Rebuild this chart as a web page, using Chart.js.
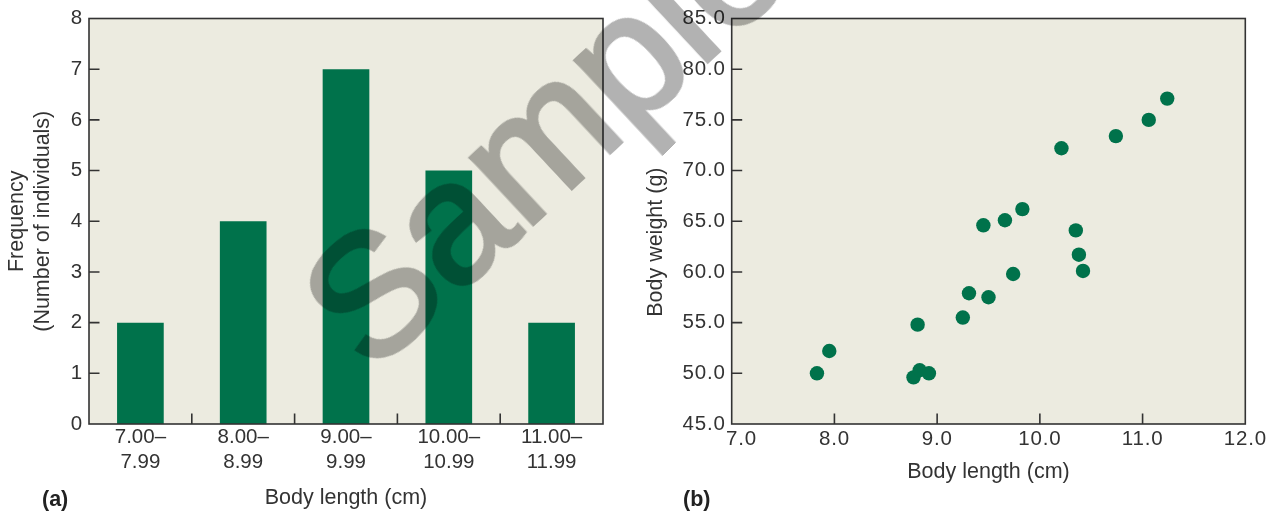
<!DOCTYPE html>
<html>
<head>
<meta charset="utf-8">
<script src="https://cdn.jsdelivr.net/npm/chart.js@4.4.1/dist/chart.umd.min.js"></script>
<style>
  html, body { margin: 0; padding: 0; background: #ffffff; }
  #wrap { position: relative; width: 1277px; height: 511px; overflow: hidden; }
  canvas { position: absolute; top: 0; }
  #histCanvas { left: 0; }
  #scatterCanvas { left: 640px; }
  .panel-tag { position: absolute; font: bold 21.5px "Liberation Sans", Arial, Helvetica, sans-serif; color: #222; line-height: 1; }
  #stamp {
    position: absolute; left: 543px; top: 133px;
    font: 172px "Liberation Sans", Arial, Helvetica, sans-serif;
    line-height: 1; white-space: nowrap; color: #000;
    -webkit-text-stroke: 4px #000;
    opacity: 0.3;
    transform: translate(-50%, -50%) rotate(-43deg);
    pointer-events: none;
  }
</style>
</head>
<body>
<div id="wrap">
  <canvas id="histCanvas" width="640" height="511"></canvas>
  <canvas id="scatterCanvas" width="637" height="511"></canvas>
  <div class="panel-tag" style="left:42px; top:489px;">(a)</div>
  <div class="panel-tag" style="left:683px; top:489px;">(b)</div>
  <div id="stamp">Sample</div>
</div>
<script>
// ---- data -----------------------------------------------------------
const binLabels = [
  ['7.00–', '7.99'],
  ['8.00–', '8.99'],
  ['9.00–', '9.99'],
  ['10.00–', '10.99'],
  ['11.00–', '11.99']
];
const frequency = [2, 4, 7, 5, 2];

const bodyLength = [7.83, 7.95, 8.81, 8.77, 8.83, 8.92, 9.25, 9.31, 9.50, 9.74,
                    9.45, 9.66, 9.83, 10.35, 10.38, 10.42, 10.21, 10.74, 11.06, 11.24];
const bodyWeight = [50.0, 52.2, 54.8, 49.6, 50.3, 50.0, 55.5, 57.9, 57.5, 59.8,
                    64.6, 65.1, 66.2, 64.1, 61.7, 60.1, 72.2, 73.4, 75.0, 77.1];

const freqTicks = [0, 1, 2, 3, 4, 5, 6, 7, 8];
const weightTicks = [45, 50, 55, 60, 65, 70, 75, 80, 85];
const lengthTicks = [7, 8, 9, 10, 11, 12];

// ---- styling --------------------------------------------------------
const GREEN = '#00724B';
const PLOT_BG = '#ECEBE0';
const INK = '#333333';
const TEXT = '#333333';
const FONT = '"Liberation Sans", Arial, Helvetica, sans-serif';
const TICK_LEN = 10.5;

// Filled plot area, framed box and inward-pointing tick marks.
function framePlugin(xMarks, yMarks) {
  return {
    id: 'frame',
    beforeDraw(chart) {
      const { ctx, chartArea: a } = chart;
      ctx.save();
      ctx.fillStyle = PLOT_BG;
      ctx.fillRect(a.left, a.top, a.right - a.left, a.bottom - a.top);
      ctx.restore();
    },
    afterDraw(chart) {
      const { ctx, chartArea: a } = chart;
      ctx.save();
      ctx.strokeStyle = INK;
      ctx.lineWidth = 1.6;
      ctx.strokeRect(a.left, a.top, a.right - a.left, a.bottom - a.top);
      ctx.beginPath();
      xMarks(chart.scales.x).forEach(px => {
        ctx.moveTo(px, a.bottom);
        ctx.lineTo(px, a.bottom - TICK_LEN);
      });
      yMarks(chart.scales.y).forEach(py => {
        ctx.moveTo(a.left, py);
        ctx.lineTo(a.left + TICK_LEN, py);
      });
      ctx.stroke();
      ctx.restore();
    }
  };
}

// Slightly looser letter spacing for numeric tick labels.
function trackedLabels(spacing) {
  return {
    id: 'trackedLabels',
    beforeDraw(chart) {
      Object.values(chart.scales).forEach(scale => {
        if (scale.__tracked || scale.type === 'category') return;
        const base = scale.drawLabels;
        scale.drawLabels = function (area) {
          const ctx = this.ctx;
          ctx.save();
          ctx.letterSpacing = spacing;
          base.call(this, area);
          ctx.restore();
        };
        scale.__tracked = true;
      });
    }
  };
}

function interiorValues(scale) {
  return scale.ticks
    .map(t => t.value)
    .filter(v => v > scale.min && v < scale.max)
    .map(v => scale.getPixelForValue(v));
}

const tickFont = { family: FONT, size: 20.5, lineHeight: 1.22 };
const titleFont = { family: FONT, size: 21.5, lineHeight: 1.21 };

Chart.defaults.color = TEXT;
Chart.defaults.animation = false;

// ---- (a) frequency histogram -----------------------------------------
new Chart(document.getElementById('histCanvas'), {
  type: 'bar',
  data: {
    labels: binLabels,
    datasets: [{
      data: frequency,
      backgroundColor: GREEN,
      borderWidth: 0,
      categoryPercentage: 1.0,
      barPercentage: 0.454
    }]
  },
  options: {
    responsive: false,
    events: [],
    layout: { padding: { top: 16, right: 37, left: 0, bottom: 0 } },
    plugins: { legend: { display: false }, tooltip: { enabled: false } },
    scales: {
      x: {
        type: 'category',
        offset: true,
        grid: { display: false, drawTicks: false },
        border: { display: false },
        ticks: { font: tickFont, color: TEXT, padding: 1, maxRotation: 0, autoSkip: false },
        title: {
          display: true, text: 'Body length (cm)', color: TEXT,
          font: titleFont, padding: { top: 0, bottom: 0 }
        },
        afterFit(scale) { scale.height = 87; }
      },
      y: {
        min: 0, max: 8,
        grid: { display: false, drawTicks: false },
        border: { display: false },
        afterBuildTicks(scale) { scale.ticks = freqTicks.map(v => ({ value: v })); },
        ticks: { font: tickFont, color: TEXT, padding: 6, callback: v => String(v) },
        title: {
          display: true, text: ['Frequency', '(Number of individuals)'], color: TEXT,
          font: titleFont, padding: { top: 4, bottom: 0 }
        },
        afterFit(scale) { scale.width = 89; }
      }
    }
  },
  plugins: [
    framePlugin(
      xs => {
        const out = [];
        for (let i = 0; i < xs.ticks.length - 1; i++) {
          out.push((xs.getPixelForTick(i) + xs.getPixelForTick(i + 1)) / 2);
        }
        return out;
      },
      ys => interiorValues(ys)
    ),
    trackedLabels('0.8px')
  ]
});

// ---- (b) body weight against body length ------------------------------
new Chart(document.getElementById('scatterCanvas'), {
  type: 'scatter',
  data: {
    datasets: [{
      data: bodyLength.map((x, i) => ({ x, y: bodyWeight[i] })),
      backgroundColor: GREEN,
      borderWidth: 0,
      pointRadius: 7.2,
      pointHoverRadius: 7.2
    }]
  },
  options: {
    responsive: false,
    events: [],
    layout: { padding: { top: 16, right: 31.7, left: 0, bottom: 0 } },
    plugins: { legend: { display: false }, tooltip: { enabled: false } },
    scales: {
      x: {
        type: 'linear', min: 7, max: 12,
        grid: { display: false, drawTicks: false },
        border: { display: false },
        afterBuildTicks(scale) { scale.ticks = lengthTicks.map(v => ({ value: v })); },
        ticks: {
          font: tickFont, color: TEXT, padding: 2.5, maxRotation: 0, autoSkip: false,
          callback: v => (v === 7 ? '   ' : '') + Number(v).toFixed(1)
        },
        title: {
          display: true, text: 'Body length (cm)', color: TEXT,
          font: titleFont, padding: { top: 0, bottom: 25.5 }
        },
        afterFit(scale) { scale.height = 87; }
      },
      y: {
        type: 'linear', min: 45, max: 85,
        grid: { display: false, drawTicks: false },
        border: { display: false },
        afterBuildTicks(scale) { scale.ticks = weightTicks.map(v => ({ value: v })); },
        ticks: { font: tickFont, color: TEXT, padding: 6, callback: v => Number(v).toFixed(1) },
        title: {
          display: true, text: 'Body weight (g)       ', color: TEXT,
          font: titleFont, padding: { top: 3, bottom: 0 }
        },
        afterFit(scale) { scale.width = 91.7; }
      }
    }
  },
  plugins: [
    framePlugin(xs => interiorValues(xs), ys => interiorValues(ys)),
    trackedLabels('0.8px')
  ]
});
</script>
</body>
</html>
